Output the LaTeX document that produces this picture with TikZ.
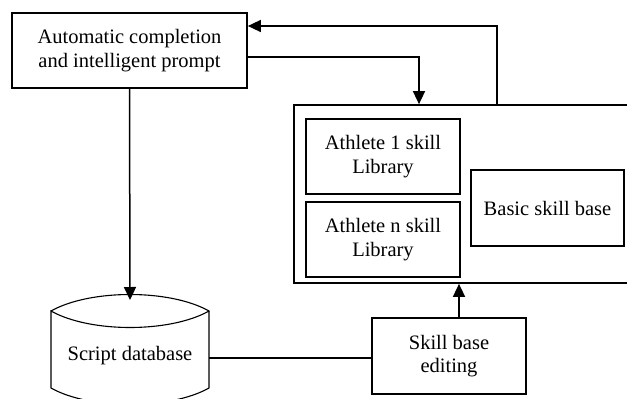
\documentclass[tikz,border=0pt]{standalone}
\usepackage{fontspec}
\setmainfont{Liberation Serif}
\usetikzlibrary{arrows.meta}
\begin{document}
\begin{tikzpicture}[x=1pt,y=-1pt,
  box/.style={draw, line width=1.7pt, rectangle, align=center,
    font=\fontsize{20.5}{23.5}\selectfont, inner sep=0pt},
  conn/.style={line width=1.5pt},
  arr/.style={conn, -{Triangle[length=13pt,width=12pt]}}]
\useasboundingbox (0,0) rectangle (627,399);
\clip (0,0) rectangle (627,399);

% main blocks
\node[box, minimum width=235pt, minimum height=75pt] (auto) at (129.5,50.5)
  {Automatic completion\\and intelligent prompt};
\node[box, minimum width=338pt, minimum height=178pt] (lib) at (463,194) {};
\node[box, minimum width=154pt, minimum height=75pt] (ath1) at (383,156.5)
  {Athlete 1 skill\\Library};
\node[box, minimum width=154pt, minimum height=75pt] (athn) at (383,239.5)
  {Athlete n skill\\Library};
\node[box, minimum width=153pt, minimum height=76pt] (basic) at (547.5,208)
  {Basic skill base};
\node[box, minimum width=154pt, minimum height=76pt] (edit) at (449,356)
  {Skill base\\editing};

% script database drum
\draw[line width=1.1pt] (51,311) .. controls (90,289) and (170,289) .. (209,311)
  .. controls (170,333) and (90,333) .. (51,311) -- (51,388)
  .. controls (90,410) and (170,410) .. (209,388) -- (209,311);
\node[font=\fontsize{20.5}{23.5}\selectfont] (db) at (130,356) {Script database};
\coordinate (dbtop) at (130,300);
\coordinate (dbright) at (209,358);

% connectors
\draw[arr] (lib.north -| 497,0) |- (auto.east |- 0,26);
\draw[arr] (auto.east |- 0,57) -| (lib.north -| 419,0);
\draw[arr] (auto.south) -- (dbtop);
\draw[conn] (dbright) -- (edit.west |- dbright);
\draw[arr] (edit.north -| 459,0) -- (lib.south -| 459,0);
\end{tikzpicture}
\end{document}
